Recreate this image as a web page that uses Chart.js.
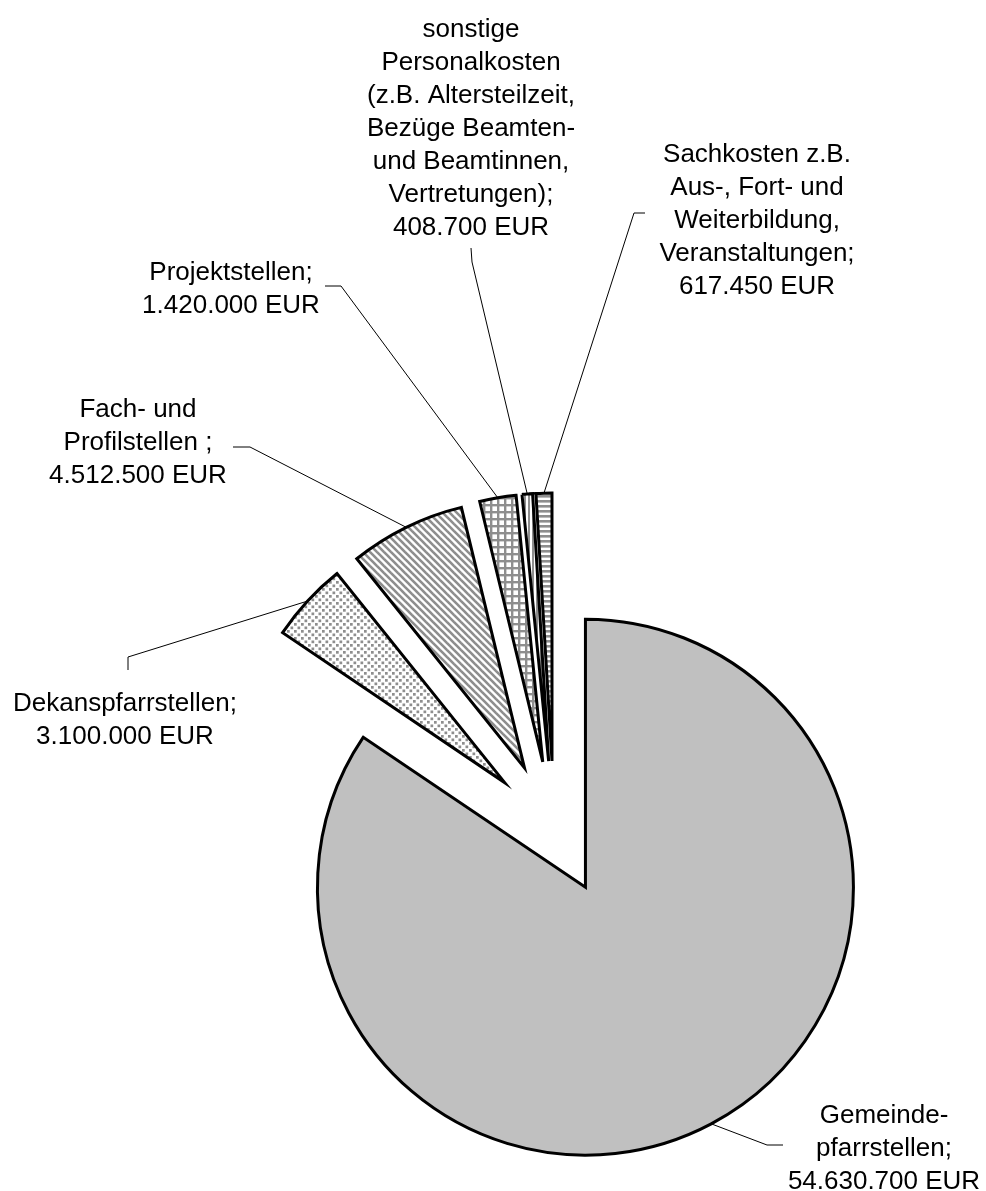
<!DOCTYPE html>
<html>
<head>
<meta charset="utf-8">
<script src="https://cdn.jsdelivr.net/npm/chart.js@4/dist/chart.umd.min.js"></script>
<style>
  html, body { margin: 0; padding: 0; background: #fff; }
  #chart { display: block; }
</style>
</head>
<body>
<canvas id="chart" width="986" height="1191"></canvas>
<script>
// data
const categories = [
  "Gemeindepfarrstellen",
  "Dekanspfarrstellen",
  "Fach- und Profilstellen",
  "Projektstellen",
  "sonstige Personalkosten",
  "Sachkosten",
];
const amounts = [54630700, 3100000, 4512500, 1420000, 408700, 617450];
const labelLines = [
  ["Gemeinde-", "pfarrstellen;"],
  ["Dekanspfarrstellen;"],
  ["Fach- und", "Profilstellen ;"],
  ["Projektstellen;"],
  ["sonstige", "Personalkosten", "(z.B. Altersteilzeit,", "Bezüge Beamten-", "und Beamtinnen,", "Vertretungen);"],
  ["Sachkosten z.B.", "Aus-, Fort- und", "Weiterbildung,", "Veranstaltungen;"],
];

// label placement (centre x, first baseline, leader elbow)
const labelBoxes = [
  { x: 884, y: 1123, leader: [[783, 1145], [767, 1145]] },
  { x: 125, y: 711, leader: [[128, 670], [128, 657]] },
  { x: 138, y: 417, leader: [[233, 447], [250, 447]] },
  { x: 231, y: 280, leader: [[325, 286], [341, 286]] },
  { x: 471, y: 37, leader: [[471, 248], [472, 262]] },
  { x: 757, y: 162, leader: [[645, 213], [634, 213]] },
];
const lineHeight = 33;
const explodeDist = 67;

function formatEur(v) {
  return String(v).replace(/\B(?=(\d{3})+(?!\d))/g, ".") + " EUR";
}

const canvas = document.getElementById("chart");
const mainCtx = canvas.getContext("2d");
const gray = "#8e8e8e";

function makePattern(w, h, draw) {
  const c = document.createElement("canvas");
  c.width = w;
  c.height = h;
  const g = c.getContext("2d");
  g.fillStyle = "#fff";
  g.fillRect(0, 0, w, h);
  g.fillStyle = gray;
  g.strokeStyle = gray;
  draw(g);
  return mainCtx.createPattern(c, "repeat");
}

const dots = makePattern(7, 7, function (g) {
  g.fillRect(0, 0, 2.7, 2.7);
  g.fillRect(3.5, 3.5, 2.7, 2.7);
});
const diagonal = makePattern(7, 7, function (g) {
  g.lineWidth = 2.6;
  [-7, 0, 7].forEach(function (s) {
    g.beginPath();
    g.moveTo(s - 2, -2);
    g.lineTo(s + 9, 9);
    g.stroke();
  });
});
const grid = makePattern(7, 7, function (g) {
  g.fillRect(0, 0, 7, 2.4);
  g.fillRect(0, 0, 2.4, 7);
});
const vertical = makePattern(4, 4, function (g) {
  g.fillRect(0, 0, 2, 4);
});
const horizontal = makePattern(5, 5, function (g) {
  g.fillRect(0, 0, 5, 2.6);
});

const fills = ["#c0c0c0", dots, diagonal, grid, vertical, horizontal];

const explode = {
  id: "explode",
  afterDatasetUpdate(chart, args) {
    args.meta.data.forEach(function (arc) {
      const mid = (arc.startAngle + arc.endAngle) / 2;
      arc.x += Math.cos(mid) * explodeDist;
      arc.y += Math.sin(mid) * explodeDist;
    });
  },
};

const sliceLabels = {
  id: "sliceLabels",
  afterDraw(chart) {
    const ctx = chart.ctx;
    const arcs = chart.getDatasetMeta(0).data;
    ctx.save();
    ctx.font = '26px "Liberation Sans", Arial, sans-serif';
    ctx.fillStyle = "#000";
    ctx.textAlign = "center";
    ctx.textBaseline = "alphabetic";
    ctx.strokeStyle = "#000";
    ctx.lineWidth = 1;
    arcs.forEach(function (arc, i) {
      const box = labelBoxes[i];
      const lines = labelLines[i].concat([formatEur(amounts[i])]);
      lines.forEach(function (t, k) {
        ctx.fillText(t, box.x, box.y + k * lineHeight);
      });
      const mid = (arc.startAngle + arc.endAngle) / 2;
      const ex = arc.x + Math.cos(mid) * arc.outerRadius;
      const ey = arc.y + Math.sin(mid) * arc.outerRadius;
      ctx.beginPath();
      ctx.moveTo(box.leader[0][0], box.leader[0][1]);
      ctx.lineTo(box.leader[1][0], box.leader[1][1]);
      ctx.lineTo(ex, ey);
      ctx.stroke();
    });
    ctx.restore();
  },
};

new Chart(mainCtx, {
  type: "pie",
  data: {
    labels: categories,
    datasets: [
      {
        data: amounts,
        backgroundColor: fills,
        borderColor: "#000",
        borderWidth: 3,
        borderJoinStyle: "miter",
        radius: 268,
      },
    ],
  },
  options: {
    responsive: false,
    animation: false,
    layout: { padding: { left: 122, right: 0, top: 465, bottom: 0 } },
    plugins: {
      legend: { display: false },
      tooltip: { enabled: false },
    },
  },
  plugins: [explode, sliceLabels],
});
</script>
</body>
</html>
